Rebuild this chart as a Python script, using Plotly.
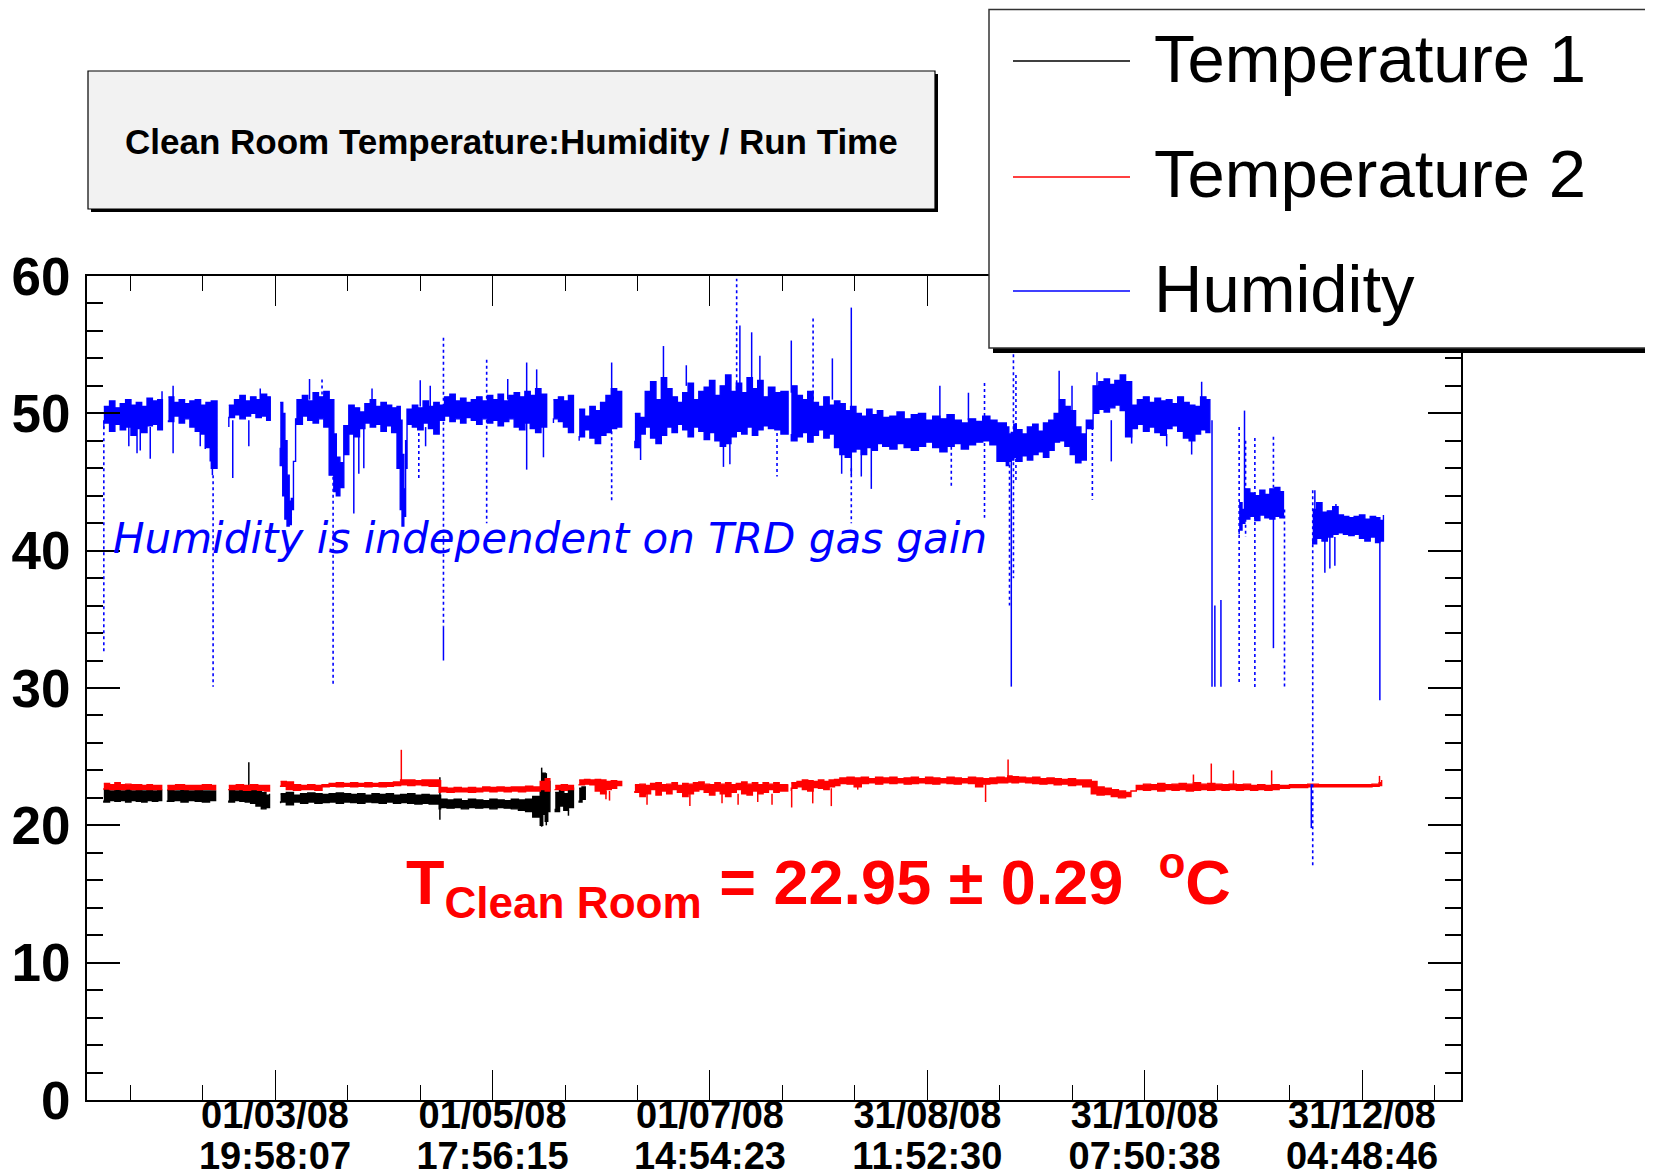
import pandas as pd
import plotly.graph_objects as go

# ---------------- data (days since 2008-01-01 00:00) ----------------
SERIES_NAMES = ["Temperature 1", "Temperature 2", "Humidity"]
SERIES_COLORS = ["#000000", "#ff0000", "#0000ff"]

TICK_TIMES = ["2008-03-01 19:58:07", "2008-05-01 17:56:15", "2008-07-01 14:54:23",
              "2008-08-31 11:52:30", "2008-10-31 07:50:38", "2008-12-31 04:48:46"]
TICK_DATES = ["01/03/08", "01/05/08", "01/07/08", "31/08/08", "31/10/08", "31/12/08"]
TICK_CLOCKS = ["19:58:07", "17:56:15", "14:54:23", "11:52:30", "07:50:38", "04:48:46"]
Y_TICKS = [0, 10, 20, 30, 40, 50, 60]

# Humidity band: day, low, high (None = gap between runs)
HUM_DAY = [12.9, 14.5, 16, 17.5, 19, 20.5, 22, 23.5, 25, 26.5, 28, 29.3, None,
           31.0, 32.5, 34, 35.5, 37, 38.5, 40, 41.5, 43, 44.6, None,
           47.9, 49.5, 51, 52.5, 54, 55.5, 57, 58.5, 59.5, None,
           62.3, 63.0, 63.6, 64.2, 64.8, 65.4, 66.0, 66.6, 67.0, 68.5, 70, 71.5, 73, 74.5, 76, 77.3,
           78.0, 79.0, 80.1, 81.5, 83, 84.5, 86, 87.5, 89, 90.5, 92, 93.5, 95, 95.9,
           96.4, 96.9, 97.4, 97.8, 99.3, 100.8, 102.3, 103.8, 105.3, 106.8, 108.3, 109.8, 111.3,
           112.8, 114.3, 115.8, 117.3, 118.8, 120.3, 121.8, 123.3, 124.8, 126.3, 127.8, 129.3,
           130.8, 132.3, 133.8, 135.3, 136.9, None,
           138.8, 140.2, 141.6, 143, 144.4, None,
           146, 147.5, 149, 150.5, 152, 153.5, 155, 156.5, 157.9, None,
           161.6, 163, 164.5, 166, 167.5, 169, 170.5, 172, 173.5, 175, 176.5, 178, 179.5, 181,
           182.5, 184, 185.5, 187, 188.5, 190, 191.5, 193, 194.5, 196, 197.5, 199, 200.8, 202.5, 204.5, None,
           205.4, 207, 208.5, 210, 211.5, 213, 214.5, 216, 217.5, 219, 220.5, 222, 223.5, 225, 226.5,
           228, 229.5, 231, 233, 235, 237, 239, 241, 243, 245, 247, 249, 251, 253, 255, 257, 259,
           261, 263, 265.6, 266.3, 267.0, 267.7, 268.4, 270, 271.5, 273, 274.5, 276, 277.5, 279,
           280.5, 282, 283.5, 285, 286.5, 288, 289.9, 291.5, 293, 294.5, 296, 297.5, 299, 300.7,
           302.3, 304, 305.6, 307.2, 308.8, 310.4, 312, 313.6, 315.2, 316.8, 318.4, 320, 321.5, 322.6, None,
           330.8, 331.6, 332.4, 333.8, 335.2, 336.6, 338, 339.4, 340.8, 342.2, 343.2, None,
           351.4, 352.5, 354, 355.5, 357, 358.5, 360, 361.5, 363, 364.5, 366, 367.5, 369, 370.2, 371.2]
HUM_LO = [48.9, 49.3, 48.7, 49.2, 48.8, 49.0, 48.4, 48.9, 48.6, 49.1, 49.2, 48.8, None,
          49.5, 49.4, 49.8, 49.3, 49.6, 49.0, 48.7, 48.5, 47.5, 46.0, None,
          49.0, 49.7, 49.9, 49.6, 49.8, 50.0, 49.7, 49.8, 49.5, None,
          47.5, 46.2, 44.0, 42.3, 41.8, 41.9, 43.0, 46.5, 49.6, 49.2, 49.8, 49.5, 49.3, 49.6, 49.0, 45.5,
          44.3, 44.0, 44.6, 49.1, 48.5, 48.3, 48.9, 49.3, 49.0, 49.2, 48.7, 49.1, 48.6, 46.0,
          43.0, 41.8, 42.5, 48.0, 49.2, 49.0, 48.8, 49.3, 48.9, 48.5, 49.5, 49.8, 49.4,
          49.6, 49.3, 49.7, 49.5, 49.2, 49.6, 49.3, 49.5, 49.1, 49.4, 49.6, 49.0,
          48.8, 49.3, 48.9, 48.6, 49.0, None,
          49.3, 49.6, 49.4, 49.0, 48.6, None,
          48.0, 48.3, 48.8, 48.2, 47.8, 48.4, 48.6, 48.9, 49.0, None,
          48.0, 47.5, 48.5, 49.0, 48.2, 47.8, 48.4, 49.0, 48.6, 49.2, 48.8, 48.3, 49.0, 48.7,
          48.1, 48.6, 48.0, 47.6, 47.8, 48.3, 48.7, 48.5, 49.0, 48.4, 48.8, 49.1, 48.9, 48.8, 48.5, None,
          48.5, 48.0, 48.3, 48.6, 47.9, 48.4, 48.8, 48.2, 48.5, 47.5, 47.0, 46.8, 47.2, 47.4, 47.0,
          47.5, 47.3, 47.8, 47.6, 47.4, 47.8, 47.5, 47.3, 47.6, 47.9, 47.5, 47.2, 47.6, 47.8, 47.4, 47.7, 47.9,
          48.0, 47.7, 46.5, 46.2, 46.5, 46.6, 46.8, 46.5, 46.9, 46.6, 47.0, 47.2, 46.8, 47.3,
          47.9, 48.0, 47.6, 47.0, 46.4, 46.6, 49.5, 50.0, 50.3, 50.1, 50.4, 50.6, 50.2, 48.3,
          48.9, 49.2, 48.7, 49.0, 48.6, 48.4, 48.9, 49.1, 48.7, 48.2, 48.0, 48.5, 48.8, 48.6, None,
          41.2, 41.5, 42.0, 42.3, 42.5, 42.2, 42.6, 42.4, 42.3, 42.5, 42.4, None,
          40.8, 40.5, 40.9, 40.7, 41.0, 41.2, 41.3, 41.2, 41.1, 41.2, 40.9, 40.7, 41.0, 40.6, 40.7]
HUM_HI = [50.5, 50.9, 50.4, 50.7, 51.0, 50.6, 50.8, 50.5, 51.1, 50.9, 51.0, 50.7, None,
          51.2, 50.8, 51.0, 50.7, 50.9, 51.0, 50.6, 50.8, 50.9, 50.6, None,
          50.6, 51.0, 51.3, 50.9, 51.2, 51.0, 51.4, 51.2, 50.8, None,
          50.8, 50.0, 48.0, 45.5, 43.6, 43.8, 46.5, 49.5, 51.0, 51.3, 50.9, 51.5, 51.2, 51.6, 51.0, 48.5,
          46.8, 46.4, 47.0, 50.6, 50.4, 50.1, 50.7, 51.0, 50.5, 50.8, 50.6, 50.4, 50.5, 49.5,
          47.0, 44.5, 46.0, 50.3, 50.6, 50.4, 50.9, 50.5, 50.8, 50.6, 51.2, 51.4, 50.9,
          51.1, 50.8, 51.0, 51.2, 50.9, 51.3, 51.0, 51.4, 50.9, 51.3, 51.5, 51.2,
          51.6, 51.3, 51.8, 51.4, 51.0, None,
          51.0, 51.2, 50.9, 51.3, 50.5, None,
          50.3, 49.8, 50.5, 50.2, 50.8, 51.3, 51.8, 51.6, 51.4, None,
          50.0, 49.7, 51.6, 52.3, 51.0, 52.6, 51.8, 51.2, 50.8, 51.5, 52.2, 51.0, 51.6, 51.9,
          52.4, 51.3, 52.0, 52.8, 51.6, 52.2, 51.5, 52.6, 51.8, 52.4, 51.2, 51.9, 51.5, 51.6, 51.0, None,
          52.0, 51.3, 51.0, 51.6, 50.8, 50.5, 51.2, 50.6, 50.9, 50.7, 50.2, 50.5, 50.0, 49.8, 50.3,
          49.9, 50.2, 49.7, 49.8, 50.1, 49.6, 49.9, 50.0, 49.5, 49.8, 49.6, 49.9, 49.5, 49.3, 49.6, 49.4, 49.8,
          49.5, 49.3, 49.0, 48.5, 48.6, 49.2, 48.8, 48.5, 49.0, 49.2, 48.7, 49.3, 49.5, 50.0,
          51.0, 50.5, 50.2, 49.0, 48.5, 48.9, 52.0, 52.3, 52.5, 52.1, 52.4, 52.8, 52.3, 50.6,
          51.0, 51.2, 50.8, 51.1, 50.9, 51.0, 50.7, 51.2, 50.8, 50.6, 50.5, 51.2, 51.0, 50.8, None,
          43.5, 43.0, 44.5, 44.2, 44.0, 44.4, 44.1, 44.5, 44.6, 44.3, 44.2, None,
          43.0, 43.5, 42.8, 42.9, 43.2, 42.6, 42.5, 42.4, 42.5, 42.6, 42.3, 42.5, 42.4, 42.2, 42.6]

# Humidity single readings far from the band: solid and dotted excursions
HUM_SPIKE_DAY = [19.9, 22.2, 23.1, 25.9, 29.2, 32.3, 39.9, 41.3, 42.7, 43.3, 49.0, 53.5, 56.7,
                 70.5, 82.9, 84.3, 85.7, 88.0, 101.5, 103.0, 104.3, 108.0, 126.0, 131.3, 134.1,
                 136.0, 155.1, 163.2, 169.6, 176.0, 186.4, 188.2, 191.0, 194.3, 196.6, 205.4,
                 216.9, 219.5, 222.2, 225.0, 227.8, 247.0, 255.0, 267.0, 280.4, 284.0, 291.0,
                 295.0, 300.7, 310.5, 317.5, 320.3, 323.2, 324.0, 325.7, 332.3, 340.4, 351.0,
                 352.0, 354.8, 356.2, 357.6, 357.9, 370.2]
HUM_SPIKE_FROM = [49.0, 49.0, 49.0, 49.0, 50.5, 52.0, 49.5, 49.5, 48.0, 47.0, 49.5, 49.5, 50.5,
                  51.0, 49.0, 49.0, 49.0, 50.5, 50.5, 49.0, 50.5, 34.5, 51.0, 53.7, 53.2,
                  49.5, 50.0, 48.5, 51.0, 52.0, 48.0, 48.0, 52.0, 52.0, 52.0, 51.5,
                  51.0, 47.5, 45.5, 47.5, 47.5, 49.5, 49.5, 48.0, 50.0, 50.0, 52.0,
                  49.5, 49.0, 48.5, 48.5, 51.0, 49.5, 36.0, 36.4, 50.2, 44.0, 23.0,
                  43.0, 41.0, 41.0, 41.0, 42.5, 42.0]
HUM_SPIKE_TO = [47.6, 47.1, 47.3, 46.7, 51.6, 47.1, 47.6, 47.4, 46.5, 45.5, 45.3, 47.6, 51.8,
                52.5, 42.7, 45.6, 46.0, 51.8, 52.4, 47.6, 52.0, 32.0, 52.5, 45.9, 49.5,
                46.8, 53.7, 46.6, 54.9, 53.5, 46.1, 46.3, 56.4, 55.9, 54.2, 55.3,
                54.0, 45.6, 57.7, 45.4, 44.5, 52.0, 51.5, 30.1, 53.1, 52.0, 53.0,
                46.5, 47.8, 47.6, 47.0, 52.3, 30.1, 30.1, 30.1, 43.0, 32.9, 19.8,
                44.4, 38.4, 38.7, 38.9, 43.4, 29.1]
HUM_DOT_DAY = [12.9, 43.5, 74.0, 77.1, 101.1, 108.0, 120.1, 155.1, 190.1, 201.4, 211.5, 222.2,
               250.2, 259.5, 266.5, 267.6, 268.3, 289.7, 330.8, 332.6, 335.2, 340.4, 343.5, 351.4]
HUM_DOT_FROM = [49.5, 45.5, 50.5, 48.0, 49.0, 55.5, 53.9, 50.0, 50.0, 49.0, 51.0, 46.0,
                48.0, 52.2, 48.0, 54.3, 52.8, 49.0, 49.0, 48.0, 48.2, 48.3, 43.0, 44.4]
HUM_DOT_TO = [32.5, 30.1, 52.5, 30.1, 45.2, 34.5, 42.0, 43.6, 59.8, 45.4, 57.0, 42.0,
              44.7, 42.4, 36.0, 38.0, 45.0, 43.7, 30.3, 41.0, 30.0, 44.0, 30.0, 17.0]

# Temperature 1 band
T1_DAY = [12.9, 14.5, 16, 17.5, 19, 20.5, 22, 23.5, 25, 26.5, 28, 29.1, None,
          30.7, 32.5, 34.5, 36.5, 38.5, 40.5, 42.5, 44.2, None,
          47.9, 49.5, 51, 52.5, 54, 55.5, 57, 58.3, 59.3, None,
          62.4, 64, 66, 68, 70, 72, 74, 76, 78, 80, 82, 84, 86, 88, 90, 92, 94, 96, 98, 100, 102, 104, 106.8,
          107.2, 109, 111, 113, 115, 117, 119, 121, 123, 125, 127, 129, 131, 133, 135.1,
          135.8, 136.5, 137.2, 137.8, None,
          139.3, 140.5, 141.7, 143, 144.4, None,
          146, 146.8, 147.7]
T1_LO = [21.8, 21.7, 21.8, 21.75, 21.8, 21.7, 21.8, 21.75, 21.7, 21.8, 21.75, 21.8, None,
         21.8, 21.75, 21.8, 21.7, 21.8, 21.75, 21.7, 21.8, None,
         21.8, 21.7, 21.8, 21.75, 21.7, 21.6, 21.4, 21.2, 21.3, None,
         21.6, 21.7, 21.5, 21.7, 21.6, 21.7, 21.6, 21.65, 21.7, 21.6, 21.7, 21.65, 21.6, 21.7, 21.65,
         21.6, 21.7, 21.6, 21.65, 21.6, 21.55, 21.6, 21.55,
         21.2, 21.3, 21.25, 21.3, 21.2, 21.3, 21.25, 21.3, 21.2, 21.3, 21.25, 21.2, 21.1, 21.0, 20.6,
         20.0, 20.8, 20.3, 21.0, None,
         21.2, 21.0, 21.4, 21.1, 21.3, None,
         21.8, 21.7, 21.9]
T1_HI = [22.6, 22.5, 22.55, 22.5, 22.6, 22.5, 22.55, 22.5, 22.6, 22.5, 22.55, 22.5, None,
         22.55, 22.5, 22.6, 22.5, 22.55, 22.5, 22.5, 22.55, None,
         22.6, 22.5, 22.55, 22.5, 22.6, 22.5, 22.4, 22.2, 22.3, None,
         22.3, 22.4, 22.2, 22.3, 22.35, 22.3, 22.25, 22.3, 22.35, 22.3, 22.25, 22.3, 22.2, 22.3, 22.25,
         22.3, 22.2, 22.25, 22.3, 22.2, 22.25, 22.2, 22.2,
         21.9, 21.85, 21.9, 21.8, 21.9, 21.85, 21.8, 21.9, 21.85, 21.8, 21.9, 21.85, 21.9, 22.1, 22.6,
         23.8, 22.9, 23.2, 22.5, None,
         22.4, 22.8, 22.3, 22.7, 22.5, None,
         22.7, 22.8, 22.6]
T1_SPIKE_DAY = [53.5, 107.0, 135.5, 136.8, 143.0]
T1_SPIKE_FROM = [22.5, 20.4, 19.9, 20.0, 21.1]
T1_SPIKE_TO = [24.6, 23.5, 24.2, 23.8, 20.7]

# Temperature 2 band
T2_DAY = [12.9, 14.5, 16, 17.5, 19, 20.5, 22, 23.5, 25, 26.5, 28, 29.1, None,
          30.7, 33, 35.5, 38, 40.5, 43, 44.2, None,
          47.9, 50, 52, 54, 56, 58, 59.3, None,
          62.4, 64, 66, 68, 70, 72, 74, 76, 78, 80, 82, 84, 86, 88, 90, 92, 94, 96, 98, 100, 102, 104, 106.8,
          107.2, 109, 111, 113, 115, 117, 119, 121, 123, 125, 127, 129, 131, 133, 135.1, 136.5, 137.8, None,
          139.3, 141, 142.7, 144.4, None,
          146, 147.5, 149, 150.5, 152, 153.5, 155, 156.5, 157.9, None,
          161.6, 163, 164.5, 166, 167.5, 169, 170.5, 172, 173.5, 175, 176.5, 178, 179.5, 181, 182.5,
          184, 185.5, 187, 188.5, 190, 191.5, 193, 194.5, 196, 197.5, 199, 200.5, 202, 204.4, None,
          205.4, 207, 208.5, 210, 211.5, 213, 214.5, 216, 217.5, 219, 221, 223, 225, 227, 229, 231, 233,
          235, 237, 239, 241, 243, 245, 247, 249, 251, 253, 255, 257, 259, 261, 263, 265, 266.0,
          267.2, 269, 271, 273, 275, 277, 279, 281, 283, 285, 287, 289.4,
          291, 293, 295, 297, 299, 300.5,
          302, 304, 306, 308, 310, 312, 314, 316, 318, 320, 322, 324, 326, 328, 330, 332, 334, 336, 338,
          340, 342, 344.9, 347, 350, 353, 356, 359, 362, 365, 368, 370.0, 370.7]
T2_LO = [22.6, 22.65, 22.6, 22.62, 22.6, 22.65, 22.6, 22.6, 22.62, 22.6, 22.6, 22.6, None,
         22.6, 22.6, 22.62, 22.6, 22.6, 22.62, 22.6, None,
         22.55, 22.6, 22.6, 22.55, 22.6, 22.55, 22.5, None,
         22.8, 22.85, 22.6, 22.55, 22.6, 22.6, 22.55, 22.8, 22.85, 22.8, 22.85, 22.8, 22.85, 22.8, 22.85,
         22.8, 22.85, 22.9, 22.95, 22.9, 22.95, 22.9, 22.85,
         22.4, 22.45, 22.4, 22.45, 22.45, 22.4, 22.45, 22.5, 22.45, 22.5, 22.45, 22.5, 22.45, 22.5, 22.5, 22.6, 22.5, None,
         22.55, 22.6, 22.55, 22.6, None,
         22.9, 22.95, 23.0, 22.95, 22.5, 22.3, 22.6, 22.7, 22.9, None,
         22.5, 22.4, 22.1, 22.3, 22.6, 22.2, 22.5, 22.3, 22.6, 22.4, 22.1, 22.3, 22.5, 22.6, 22.4,
         22.2, 22.5, 22.3, 22.1, 22.4, 22.6, 22.3, 22.2, 22.5, 22.3, 22.4, 22.6, 22.4, 22.5, None,
         22.5, 22.7, 22.8, 22.6, 22.5, 22.75, 22.7, 22.6, 22.8, 22.9, 23.05, 23.0, 22.8, 23.05, 23.1, 23.0, 23.1,
         23.05, 23.1, 23.0, 23.05, 23.1, 23.05, 23.0, 23.1, 23.05, 23.0, 23.1, 23.05, 22.8, 23.0, 23.05, 23.1, 23.1,
         23.15, 23.1, 23.15, 23.1, 23.05, 23.0, 23.05, 22.95, 23.0, 22.9, 22.95, 22.8,
         22.3, 22.2, 22.25, 22.1, 22.0, 22.1,
         22.5, 22.6, 22.55, 22.6, 22.5, 22.6, 22.55, 22.6, 22.5, 22.55, 22.6, 22.55, 22.6, 22.55, 22.6, 22.55,
         22.6, 22.55, 22.6, 22.55, 22.6, 22.7, 22.75, 22.75, 22.8, 22.8, 22.8, 22.8, 22.8, 22.8, 22.85, 22.9]
T2_HI = [23.05, 22.95, 23.1, 22.95, 23.0, 22.95, 22.95, 22.9, 22.95, 22.9, 22.9, 22.9, None,
         22.9, 22.95, 22.9, 22.9, 22.95, 22.9, 22.9, None,
         22.9, 22.95, 22.9, 22.95, 22.9, 22.9, 22.85, None,
         23.2, 23.15, 22.95, 22.9, 22.95, 22.9, 22.95, 23.05, 23.1, 23.05, 23.1, 23.05, 23.1, 23.05, 23.1,
         23.1, 23.15, 23.3, 23.3, 23.25, 23.3, 23.3, 23.25,
         22.75, 22.7, 22.75, 22.7, 22.75, 22.7, 22.8, 22.75, 22.8, 22.75, 22.8, 22.8, 22.85, 22.8, 23.2, 23.4, 22.9, None,
         22.9, 22.95, 22.9, 22.9, None,
         23.3, 23.35, 23.3, 23.35, 23.3, 23.2, 23.25, 23.2, 23.25, None,
         22.95, 23.0, 22.9, 23.05, 23.1, 22.95, 23.0, 23.1, 22.9, 23.05, 23.0, 23.1, 23.15, 23.0, 22.95,
         23.1, 23.0, 23.1, 22.95, 23.05, 23.15, 23.0, 23.1, 22.95, 23.1, 23.0, 23.1, 22.95, 23.0, None,
         23.1, 23.2, 23.3, 23.25, 23.2, 23.3, 23.2, 23.3, 23.35, 23.45, 23.5, 23.45, 23.5, 23.4, 23.5, 23.45, 23.5,
         23.4, 23.45, 23.5, 23.4, 23.5, 23.45, 23.4, 23.5, 23.45, 23.4, 23.5, 23.45, 23.4, 23.45, 23.5, 23.45, 23.6,
         23.55, 23.5, 23.45, 23.5, 23.4, 23.45, 23.4, 23.35, 23.4, 23.3, 23.3, 23.2,
         22.8, 22.7, 22.6, 22.5, 22.4, 22.5,
         22.9, 23.0, 22.95, 23.05, 22.95, 23.0, 23.05, 23.0, 23.1, 23.0, 23.05, 23.0, 22.95, 23.0, 22.95, 23.0,
         22.9, 22.95, 22.9, 22.95, 22.9, 22.95, 22.95, 23.0, 22.95, 22.95, 22.95, 22.95, 22.95, 23.0, 23.1, 23.3]
T2_SPIKE_DAY = [96.2, 153.5, 154.5, 165.0, 177.0, 186.0, 190.5, 196.0, 200.0, 205.5, 211.4,
                216.6, 224.0, 259.8, 266.1, 318.0, 323.0, 329.2, 339.9, 370.1]
T2_SPIKE_FROM = [23.0, 22.5, 22.5, 22.3, 22.3, 22.3, 22.3, 22.3, 22.3, 22.7, 22.7,
                 22.7, 23.1, 23.0, 23.3, 22.9, 22.9, 22.9, 22.9, 23.0]
T2_SPIKE_TO = [25.5, 21.9, 21.8, 21.5, 21.4, 21.6, 21.5, 21.7, 21.5, 21.3, 21.6,
               21.4, 22.6, 21.7, 24.8, 23.7, 24.5, 24.0, 24.0, 23.6]

X_RANGE_DAYS = [8.19, 392.92]
Y_RANGE = [0, 60]

# ---------------- helpers ----------------
BASE = pd.Timestamp("2008-01-01 00:00:00")


def t(d):
    return None if d is None else (BASE + pd.Timedelta(days=d)).strftime("%Y-%m-%d %H:%M:%S")


def band_polygons(days, lo, hi):
    xs, ys = [], []
    seg = []
    for d, a, b in list(zip(days, lo, hi)) + [(None, None, None)]:
        if d is None:
            if seg:
                xs += [t(s[0]) for s in seg] + [t(s[0]) for s in reversed(seg)] + [None]
                ys += [s[2] for s in seg] + [s[1] for s in reversed(seg)] + [None]
            seg = []
        else:
            seg.append((d, a, b))
    return xs, ys


def spikes(days, y0, y1):
    xs, ys = [], []
    for d, a, b in zip(days, y0, y1):
        xs += [t(d), t(d), None]
        ys += [a, b, None]
    return xs, ys


fig = go.Figure()


def add_band(days, lo, hi, color, name):
    x, y = band_polygons(days, lo, hi)
    fig.add_trace(go.Scatter(x=x, y=y, mode="lines", fill="toself", fillcolor=color,
                             line=dict(color=color, width=1.4, shape="hv"), name=name,
                             showlegend=False, hoverinfo="skip"))


def add_spikes(days, a, b, color, dash="solid", width=1.5, xaxis="x"):
    x, y = spikes(days, a, b)
    fig.add_trace(go.Scatter(x=x, y=y, mode="lines", line=dict(color=color, width=width, dash=dash),
                             showlegend=False, hoverinfo="skip", xaxis=xaxis))


add_band(T1_DAY, T1_LO, T1_HI, SERIES_COLORS[0], SERIES_NAMES[0])
add_spikes(T1_SPIKE_DAY, T1_SPIKE_FROM, T1_SPIKE_TO, SERIES_COLORS[0])
add_band(T2_DAY, T2_LO, T2_HI, SERIES_COLORS[1], SERIES_NAMES[1])
add_spikes(T2_SPIKE_DAY, T2_SPIKE_FROM, T2_SPIKE_TO, SERIES_COLORS[1])
add_band(HUM_DAY, HUM_LO, HUM_HI, SERIES_COLORS[2], SERIES_NAMES[2])
add_spikes(HUM_SPIKE_DAY, HUM_SPIKE_FROM, HUM_SPIKE_TO, SERIES_COLORS[2])
add_spikes(HUM_DOT_DAY, HUM_DOT_FROM, HUM_DOT_TO, SERIES_COLORS[2], dash="dot", width=1.6, xaxis="x2")

# minor ticks: 3 divisions per major interval
major = [pd.Timestamp(s) for s in TICK_TIMES]
step = (major[-1] - major[0]) / (len(major) - 1) / 3
minor = []
cur = major[0]
while cur - step > BASE + pd.Timedelta(days=X_RANGE_DAYS[0]):
    cur = cur - step
    minor.append(cur)
for a, b in zip(major[:-1], major[1:]):
    d = (b - a) / 3
    minor += [a + d, a + 2 * d]
cur = major[-1]
while cur + step < BASE + pd.Timedelta(days=X_RANGE_DAYS[1]):
    cur = cur + step
    minor.append(cur)
minor = [m.strftime("%Y-%m-%d %H:%M:%S") for m in minor]

xr = [t(X_RANGE_DAYS[0]), t(X_RANGE_DAYS[1])]

# page body keeps its default 8px margin, so the figure is sized to fit inside the window
PAGE_PAD = 8
WIN_W, WIN_H = 1653, 1176
W, H = WIN_W - PAGE_PAD, WIN_H - PAGE_PAD
# plot frame in window pixels
X0, X1, Y0, Y1 = 87, 1461, 276, 1100
L, R = X0 - PAGE_PAD, W - (X1 - PAGE_PAD)
T, B = Y0 - PAGE_PAD, H - (Y1 - PAGE_PAD)
PW, PH = X1 - X0, Y1 - Y0


def px(x):
    return (x - X0) / PW


def py(y):
    return (Y1 - y) / PH


tick_font = dict(family="Liberation Sans", size=38, color="black", weight="bold")

fig.update_layout(
    width=W, height=H, autosize=False,
    margin=dict(l=L, r=R, t=T, b=B, pad=0),
    paper_bgcolor="white", plot_bgcolor="white",
    showlegend=False,
    xaxis=dict(type="date", range=xr, tickmode="array", tickvals=TICK_TIMES, ticktext=TICK_DATES,
               ticks="inside", ticklen=30, tickwidth=1.2, tickcolor="black",
               minor=dict(tickmode="array", tickvals=minor, ticks="inside", ticklen=15,
                          tickwidth=1.2, tickcolor="black", showgrid=False),
               showline=True, linecolor="black", linewidth=2, mirror="ticks", automargin=False,
               showgrid=False, zeroline=False, tickfont=tick_font, ticklabelstandoff=-20),
    xaxis2=dict(type="date", range=xr, overlaying="x", anchor="y", side="bottom",
                tickmode="array", tickvals=TICK_TIMES, ticktext=TICK_CLOCKS, automargin=False,
                ticks="", showline=False, showgrid=False, zeroline=False,
                tickfont=tick_font, ticklabelstandoff=30),
    yaxis=dict(range=Y_RANGE, tickmode="array", tickvals=Y_TICKS, automargin=False,
               ticks="inside", ticklen=33, tickwidth=1.6, tickcolor="black",
               minor=dict(dtick=2, tick0=0, ticks="inside", ticklen=16, tickwidth=1.6,
                          tickcolor="black", showgrid=False),
               showline=True, linecolor="black", linewidth=2, mirror="ticks",
               showgrid=False, zeroline=False,
               tickfont=dict(family="Liberation Sans", size=53, color="black", weight="bold"),
               ticklabelstandoff=4),
)

shapes = []
# title box with shadow
shapes.append(dict(type="rect", xref="paper", yref="paper", x0=px(91), x1=px(938), y0=py(74), y1=py(212),
                   fillcolor="black", line=dict(width=0), layer="above"))
shapes.append(dict(type="rect", xref="paper", yref="paper", x0=px(88), x1=px(935), y0=py(71), y1=py(209),
                   fillcolor="#f2f2f2", line=dict(color="black", width=1.2), layer="above"))
# legend box with shadow
shapes.append(dict(type="rect", xref="paper", yref="paper", x0=px(993), x1=px(1652), y0=py(14), y1=py(353),
                   fillcolor="black", line=dict(width=0), layer="above"))
shapes.append(dict(type="rect", xref="paper", yref="paper", x0=px(989), x1=px(1648), y0=py(9.5), y1=py(348),
                   fillcolor="white", line=dict(color="#333333", width=1.5), layer="above"))
legend_rows = [61, 177, 291]
annotations = []
for name, color, yy in zip(SERIES_NAMES, SERIES_COLORS, legend_rows):
    shapes.append(dict(type="line", xref="paper", yref="paper", x0=px(1013), x1=px(1130),
                       y0=py(yy), y1=py(yy), line=dict(color=color, width=1.6), layer="above"))
    annotations.append(dict(text=name, xref="paper", yref="paper", x=px(1152), y=py(yy - 3),
                            xanchor="left", yanchor="middle", showarrow=False,
                            font=dict(family="Liberation Sans", size=67, color="black")))

annotations.append(dict(text="Clean Room Temperature:Humidity / Run Time", xref="paper", yref="paper",
                        x=px(511), y=py(141), xanchor="center", yanchor="middle", showarrow=False,
                        font=dict(family="Liberation Sans", size=35, color="black", weight="bold")))
annotations.append(dict(text="<i>Humidity is independent on TRD gas gain</i>", xref="paper", yref="paper",
                        x=px(111), y=py(538), xanchor="left", yanchor="middle", showarrow=False,
                        font=dict(family="DejaVu Sans", size=42, color="#0000ff")))
annotations.append(dict(text="T<sub>Clean Room</sub> = 22.95 ± 0.29&nbsp;&nbsp;<sup>o</sup>C",
                        xref="paper", yref="paper", x=px(818), y=py(882), xanchor="center",
                        yanchor="middle", showarrow=False,
                        font=dict(family="Liberation Sans", size=63, color="#ff0000", weight="bold")))

fig.update_layout(shapes=shapes, annotations=annotations)
fig.write_html("out.html")
